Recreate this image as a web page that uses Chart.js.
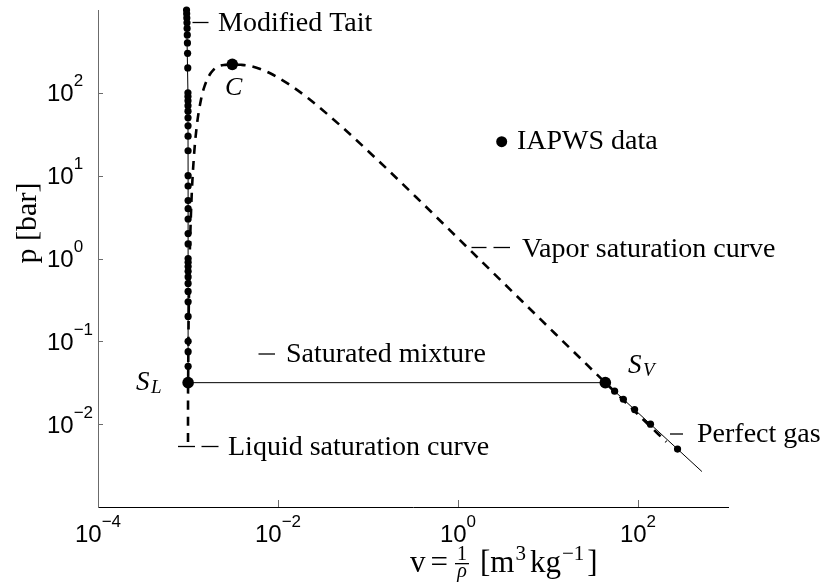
<!DOCTYPE html>
<html>
<head>
<meta charset="utf-8">
<script src="https://cdn.jsdelivr.net/npm/chart.js@4.4.1/dist/chart.umd.min.js"></script>
<style>
html,body{margin:0;padding:0;background:#fff;}
#wrap{width:828px;height:583px;}
</style>
</head>
<body>
<div id="wrap"><canvas id="pv" width="828" height="583"></canvas></div>
<script>
// saturation dome: triple point (liquid) -> critical point -> triple point (vapour)
const domeV = [0.0010002, 0.0010003, 0.0010030, 0.0010121, 0.0010259, 0.0010435, 0.0010905, 0.0011565,
  0.0012517, 0.0014041, 0.0015280, 0.0017406, 0.0018945, 0.0022152, 0.0026, 0.003106, 0.0039,
  0.004953, 0.006945, 0.008805, 0.01419, 0.02167, 0.05004, 0.1272, 0.3925, 1.672, 4.129,
  12.03, 43.34, 106.3, 206.0];
const domeP = [0.00611, 0.01228, 0.0317, 0.1235, 0.3863, 1.0142, 4.76, 15.54,
  39.76, 85.88, 120.6, 165.3, 186.7, 210.4, 217.5, 220.64, 218.0,
  210.4, 186.7, 165.3, 120.6, 85.88, 39.76, 15.54, 4.76, 1.0142, 0.3863,
  0.1235, 0.0317, 0.01228, 0.00611];

// modified Tait, liquid branch at 25 C
const taitV = [0.0010030, 0.0010030, 0.0010026, 0.0009985, 0.0009634];
const taitP = [0.0317, 1, 10, 100, 1000];

// IAPWS reference points, compressed liquid
const liqP = [0.05, 0.075, 0.1, 0.2, 0.3, 0.4, 0.5, 0.6, 0.7, 0.8, 0.9, 1, 1.5, 2, 3, 4, 5, 7.5, 10,
  20, 30, 40, 50, 60, 70, 80, 90, 100, 200, 300, 400, 500, 600, 700, 800, 900, 1000];
const liqV = [0.0010030, 0.0010030, 0.0010030, 0.0010030, 0.0010030, 0.0010030, 0.0010030, 0.0010030,
  0.0010030, 0.0010030, 0.0010030, 0.0010030, 0.0010029, 0.0010029, 0.0010028, 0.0010028, 0.0010027,
  0.0010026, 0.0010025, 0.0010021, 0.0010017, 0.0010012, 0.0010008, 0.0010003, 0.0009999, 0.0009994,
  0.0009990, 0.0009985, 0.0009941, 0.0009898, 0.0009857, 0.0009817, 0.0009778, 0.0009741, 0.0009704,
  0.0009669, 0.0009634];

// IAPWS reference points, superheated vapour
const gasV = [55.0, 68.8, 91.7, 137.6, 275.0];
const gasP = [0.025, 0.02, 0.015, 0.01, 0.005];

// perfect gas isotherm and saturated mixture
const idealV = [43.34, 513];
const idealP = [0.0317, 0.00268];
const mixV = [0.0010030, 43.34];
const mixP = [0.0317, 0.0317];

// critical point, saturated liquid, saturated vapour
const keyV = [0.003106, 0.0010030, 43.34];
const keyP = [220.64, 0.0317, 0.0317];

const xTicks = [1e-4, 1e-2, 1e0, 1e2];
const xExp = ['\u22124', '\u22122', '0', '2'];
const yTicks = [1e-2, 1e-1, 1e0, 1e1, 1e2];
const yExp = ['\u22122', '\u22121', '0', '1', '2'];

const pts = (v, p) => v.map((val, i) => ({x: val, y: p[i]}));

const SERIF = '"Liberation Serif", "Times New Roman", serif';
const SANS = '"Liberation Sans", Arial, sans-serif';

const overlay = {
  id: 'overlay',
  afterDraw(chart) {
    const ctx = chart.ctx;
    const a = chart.chartArea;
    const sx = chart.scales.x, sy = chart.scales.y;
    ctx.save();

    // inward tick marks
    ctx.strokeStyle = '#6b6b6b';
    ctx.lineWidth = 1;
    xTicks.forEach(t => {
      const px = Math.round(sx.getPixelForValue(t)) + 0.5;
      ctx.beginPath(); ctx.moveTo(px, a.bottom); ctx.lineTo(px, a.bottom - 7); ctx.stroke();
    });
    yTicks.forEach(t => {
      const py = Math.round(sy.getPixelForValue(t)) + 0.5;
      ctx.beginPath(); ctx.moveTo(a.left, py); ctx.lineTo(a.left + 5, py); ctx.stroke();
    });

    // tick labels 10^n
    ctx.fillStyle = '#000';
    ctx.textBaseline = 'alphabetic';
    ctx.textAlign = 'left';
    xTicks.forEach((t, i) => {
      const px = sx.getPixelForValue(t);
      ctx.font = '24px ' + SANS;
      const w1 = ctx.measureText('10').width;
      ctx.font = '17px ' + SANS;
      const w2 = ctx.measureText(xExp[i]).width;
      const x0 = px - (w1 + w2) / 2;
      ctx.font = '24px ' + SANS;
      ctx.fillText('10', x0, a.bottom + 35);
      ctx.font = '17px ' + SANS;
      ctx.fillText(xExp[i], x0 + w1, a.bottom + 20);
    });
    yTicks.forEach((t, i) => {
      const py = sy.getPixelForValue(t);
      ctx.font = '24px ' + SANS;
      const w1 = ctx.measureText('10').width;
      ctx.fillText('10', 47, py + 8.5);
      ctx.font = '17px ' + SANS;
      ctx.fillText(yExp[i], 47 + w1, py - 6.5);
    });

    // axis titles
    ctx.save();
    ctx.translate(36, 223);
    ctx.rotate(-Math.PI / 2);
    ctx.textAlign = 'center';
    ctx.font = '30px ' + SERIF;
    ctx.fillText('p [bar]', 0, 0);
    ctx.restore();

    let cx = 410;
    const base = 572;
    ctx.font = '31px ' + SERIF;
    ctx.fillText('v', cx, base); cx += ctx.measureText('v').width + 5;
    ctx.fillText('=', cx, base); cx += ctx.measureText('=').width + 7;
    ctx.font = '20px ' + SERIF;
    ctx.textAlign = 'center';
    ctx.fillText('1', cx + 7, base - 12);
    ctx.font = 'italic 20px ' + SERIF;
    ctx.fillText('\u03c1', cx + 7, base + 5);
    ctx.fillRect(cx, base - 9, 14, 1.3);
    ctx.textAlign = 'left';
    cx += 25;
    ctx.font = '31px ' + SERIF;
    ctx.fillText('[m', cx, base); cx += ctx.measureText('[m').width;
    ctx.font = '21px ' + SERIF;
    ctx.fillText('3', cx + 1, base - 12); cx += ctx.measureText('3').width + 5;
    ctx.font = '31px ' + SERIF;
    ctx.fillText('kg', cx, base); cx += ctx.measureText('kg').width;
    ctx.font = '21px ' + SERIF;
    ctx.fillText('\u22121', cx + 1, base - 12); cx += ctx.measureText('\u22121').width + 4;
    ctx.font = '31px ' + SERIF;
    ctx.fillText(']', cx, base);

    // annotation texts and line samples
    ctx.font = '28px ' + SERIF;
    ctx.fillText('Modified Tait', 218, 31);
    ctx.fillText('IAPWS data', 517, 149);
    ctx.fillText('Vapor saturation curve', 522, 257);
    ctx.fillText('Saturated mixture', 286, 362);
    ctx.fillText('Liquid saturation curve', 228, 455);
    ctx.fillText('Perfect gas', 697, 442);

    ctx.lineWidth = 1.3;
    ctx.strokeStyle = '#000';
    const dash = (x1, x2, yy) => { ctx.beginPath(); ctx.moveTo(x1, yy); ctx.lineTo(x2, yy); ctx.stroke(); };
    dash(192.5, 208.5, 22.5);
    dash(471.5, 486.5, 247.5); dash(493.5, 510, 247.5);
    dash(258.5, 275, 354);
    dash(178, 195, 446.5); dash(201.5, 218.5, 446.5);
    dash(670, 683, 434);

    ctx.beginPath(); ctx.arc(501.7, 141.7, 5.5, 0, Math.PI * 2); ctx.fill();

    // point names
    ctx.font = 'italic 26px ' + SERIF;
    ctx.fillText('C', 225, 95);
    ctx.font = 'italic 27px ' + SERIF;
    ctx.fillText('S', 136, 390);
    ctx.fillText('S', 628, 373);
    ctx.font = 'italic 19px ' + SERIF;
    ctx.fillText('L', 151, 393);
    ctx.fillText('V', 643, 376);

    ctx.restore();
  }
};

new Chart(document.getElementById('pv'), {
  type: 'scatter',
  data: {
    datasets: [
      { data: pts(keyV, keyP), pointRadius: 5.8, pointBackgroundColor: '#000', pointBorderWidth: 0, showLine: false, order: 0 },
      { data: pts(liqV, liqP), pointRadius: 3.6, pointBackgroundColor: '#000', pointBorderWidth: 0, showLine: false, order: 1 },
      { data: pts(gasV, gasP), pointRadius: 3.6, pointBackgroundColor: '#000', pointBorderWidth: 0, showLine: false, order: 1 },
      { data: pts(taitV, taitP), showLine: true, borderColor: '#000', borderWidth: 1, pointRadius: 0, order: 2 },
      { data: pts(mixV, mixP), showLine: true, borderColor: '#000', borderWidth: 1, pointRadius: 0, order: 2 },
      { data: pts(idealV, idealP), showLine: true, borderColor: '#000', borderWidth: 1, pointRadius: 0, order: 2 },
      { data: pts(domeV, domeP), showLine: true, borderColor: '#000', borderWidth: 2.6, borderDash: [9, 7],
        cubicInterpolationMode: 'monotone', pointRadius: 0, order: 3 }
    ]
  },
  options: {
    responsive: false,
    animation: false,
    devicePixelRatio: 1,
    layout: { padding: { left: 98, right: 100, top: 10, bottom: 76 } },
    plugins: { legend: { display: false }, tooltip: { enabled: false } },
    elements: { point: { hoverRadius: 0 } },
    clip: false,
    scales: {
      x: {
        type: 'logarithmic', min: 1e-4, max: 1e3,
        ticks: { display: false },
        grid: { display: true, drawOnChartArea: false, drawTicks: false },
        border: { display: true, color: '#000', width: 1 }
      },
      y: {
        type: 'logarithmic', min: 1e-3, max: 1e3,
        ticks: { display: false },
        grid: { display: true, drawOnChartArea: false, drawTicks: false },
        border: { display: true, color: '#6b6b6b', width: 1 }
      }
    }
  },
  plugins: [overlay]
});
</script>
</body>
</html>
